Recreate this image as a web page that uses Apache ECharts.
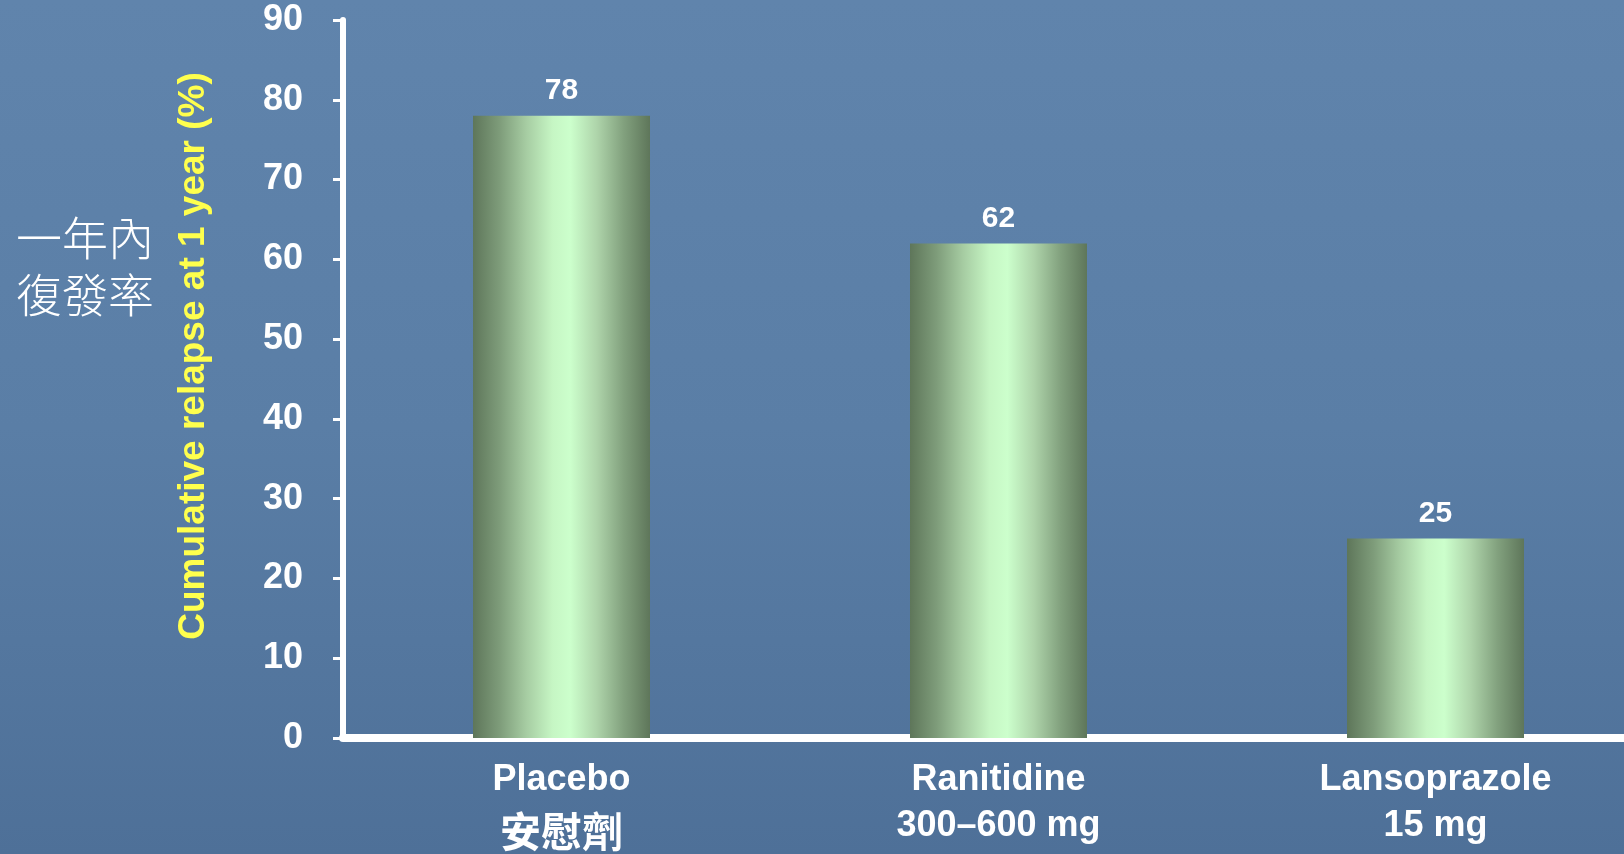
<!DOCTYPE html>
<html lang="zh-TW">
<head>
    <meta charset="UTF-8">
    <title>relapse</title>
    <script src="https://cdn.jsdelivr.net/npm/echarts@6/dist/echarts.min.js"></script>
    <style>
        html, body { margin: 0; padding: 0; overflow: hidden; }
        body { background: linear-gradient(to bottom, #6084ac 0%, #5a7ea6 50%, #4e7098 100%); }
    </style>
</head>
<body>
<div id="main" style="width: 1624px;height:854px;"></div>
<script type="text/javascript">
    // 資料
    var categories = ['Placebo\n安慰劑', 'Ranitidine\n300–600 mg', 'Lansoprazole\n15 mg'];
    var relapse = [78, 62, 25];
    var yTicks = [0, 10, 20, 30, 40, 50, 60, 70, 80, 90];

    var font = '"Liberation Sans", "Noto Sans CJK TC", Arial, sans-serif';

    var myEChart = echarts.init(document.getElementById('main'));

    // 長條的橫向漸層
    var barColor = new echarts.graphic.LinearGradient(0, 0, 1, 0, [
        {offset: 0, color: '#5e765a'},
        {offset: 0.15, color: '#7e9c7a'},
        {offset: 0.3, color: '#a6cca2'},
        {offset: 0.45, color: '#c6f6c4'},
        {offset: 0.55, color: '#ccffcc'},
        {offset: 0.7, color: '#aed4aa'},
        {offset: 0.85, color: '#82a17e'},
        {offset: 1, color: '#5e765a'}
    ]);

    myEChart.setOption({
        backgroundColor: 'transparent',
        grid: {
            left: 343,
            right: -30,
            top: 20,
            bottom: 116,
            containLabel: false,
            outerBoundsMode: 'none'
        },
        graphic: [
            {
                type: 'text',
                x: 194,
                y: 356,
                rotation: Math.PI / 2,
                style: {
                    text: 'Cumulative relapse at 1 year (%)',
                    fill: '#ffff4d',
                    font: 'bold 37px ' + font,
                    align: 'center',
                    verticalAlign: 'middle'
                }
            },
            {
                type: 'text',
                x: 16,
                y: 266,
                style: {
                    text: '一年內\n復發率',
                    fill: '#ffffff',
                    fontFamily: '"Noto Sans CJK TC", sans-serif',
                    fontSize: 46,
                    fontWeight: 300,
                    lineHeight: 57,
                    align: 'left',
                    verticalAlign: 'middle'
                }
            }
        ],
        xAxis: {
            type: 'category',
            data: categories,
            axisLine: {lineStyle: {color: '#ffffff', width: 8}},
            axisTick: {show: false},
            axisLabel: {
                color: '#ffffff',
                fontFamily: font,
                fontWeight: 'bold',
                margin: 19,
                formatter: function (v) {
                    var p = v.split('\n');
                    var style = /[\u4e00-\u9fff]/.test(p[1]) ? 'c' : 'b';
                    return '{a|' + p[0] + '}\n{' + style + '|' + p[1] + '}';
                },
                rich: {
                    a: {color: '#ffffff', fontFamily: font, fontWeight: 'bold', fontSize: 36, lineHeight: 46},
                    b: {color: '#ffffff', fontFamily: font, fontWeight: 'bold', fontSize: 36, lineHeight: 46},
                    c: {color: '#ffffff', fontFamily: font, fontWeight: 'bold', fontSize: 41, lineHeight: 66}
                }
            }
        },
        yAxis: {
            type: 'value',
            min: yTicks[0],
            max: yTicks[yTicks.length - 1],
            interval: 10,
            splitLine: {show: false},
            axisLine: {show: true, lineStyle: {color: '#ffffff', width: 6}},
            axisTick: {show: true, length: 10, lineStyle: {color: '#ffffff', width: 3}},
            axisLabel: {
                color: '#ffffff',
                fontFamily: font,
                fontWeight: 'bold',
                fontSize: 36,
                margin: 40
            }
        },
        series: [{
            type: 'bar',
            data: relapse,
            barWidth: 177,
            itemStyle: {color: barColor},
            label: {
                show: true,
                position: 'top',
                distance: 10,
                color: '#ffffff',
                fontFamily: font,
                fontWeight: 'bold',
                fontSize: 30
            }
        }]
    });
</script>
</body>
</html>
